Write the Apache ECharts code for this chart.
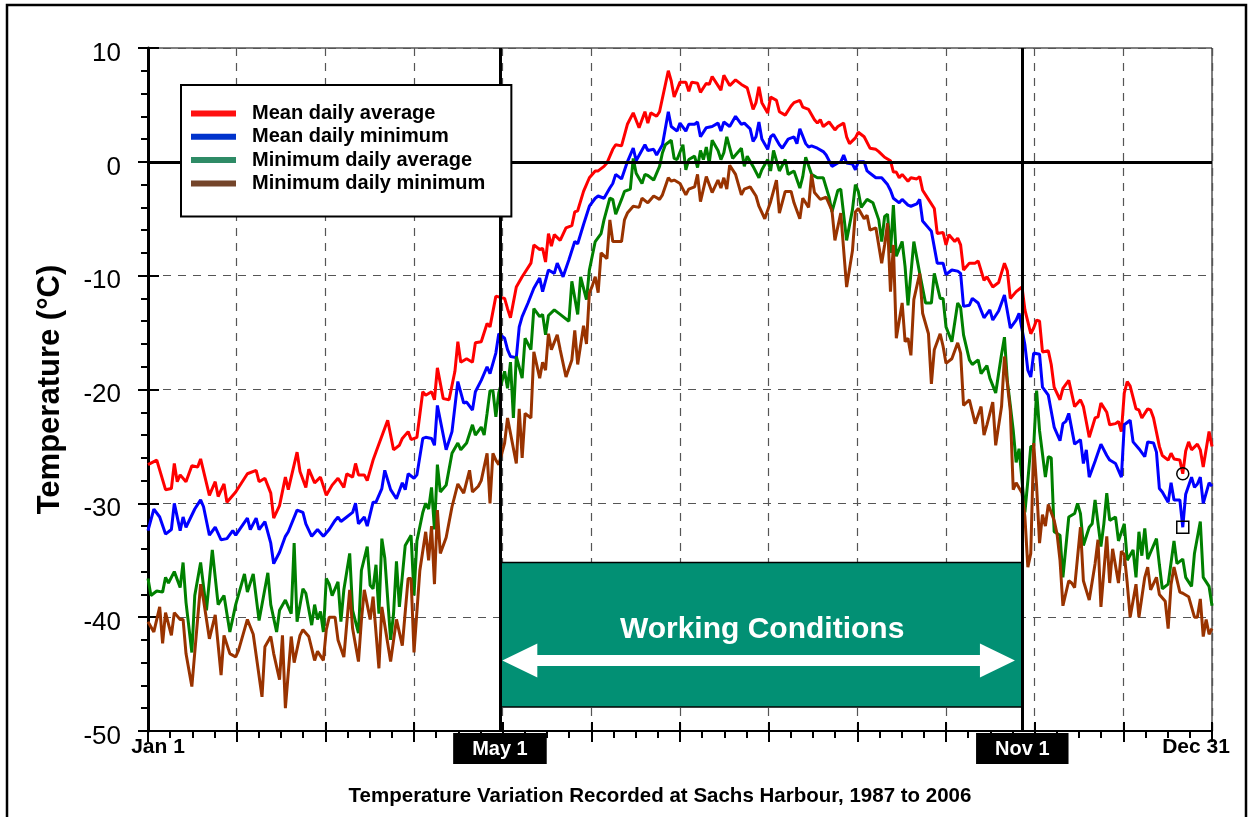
<!DOCTYPE html>
<html>
<head>
<meta charset="utf-8">
<title>Sachs Harbour temperatures</title>
<script src="https://cdn.jsdelivr.net/npm/echarts@6/dist/echarts.min.js"></script>
<style>
  html, body { margin: 0; padding: 0; background: #fff; }
  #chart { width: 1251px; height: 817px; }
</style>
</head>
<body>
<div id="chart"></div>
<script>
// day of year (0 = Jan 1, 364 = Dec 31), temperature in degC
var meanAvg = [[0,-26.6],[3,-26.2],[6,-28.8],[8,-28.7],[9,-26.5],[10,-28.1],[11,-27.5],[13,-28.1],[15,-26.7],[17,-26.8],[18,-26.1],[21,-29.3],[23,-28.1],[24,-29.4],[26,-28.3],[27,-29.9],[30,-29.0],[34,-27.4],[37,-27.1],[38,-28.1],[40,-27.8],[42,-29.1],[43,-31.3],[45,-30.2],[47,-27.7],[48,-28.8],[51,-25.5],[52,-27.2],[54,-28.6],[55,-27.0],[57,-28.2],[59,-27.7],[61,-29.3],[63,-28.4],[65,-27.8],[67,-28.6],[68,-27.4],[70,-27.7],[71,-26.5],[72,-27.5],[74,-27.5],[75,-28.0],[77,-26.2],[78,-25.5],[82,-22.7],[84,-25.3],[86,-24.9],[87,-24.3],[89,-23.7],[90,-24.4],[92,-24.2],[94,-20.2],[95,-20.5],[97,-20.2],[98,-20.9],[99,-18.1],[101,-20.8],[103,-20.9],[105,-18.4],[106,-15.8],[107,-17.6],[109,-17.3],[111,-17.6],[112,-15.9],[114,-15.8],[116,-14.2],[117,-14.5],[119,-11.8],[122,-12.0],[123,-12.9],[124,-13.7],[126,-11.0],[128,-10.1],[131,-8.9],[132,-7.3],[134,-7.7],[135,-7.6],[136,-8.8],[137,-6.3],[138,-7.4],[139,-6.4],[141,-6.9],[143,-5.8],[145,-5.6],[146,-4.4],[147,-4.3],[149,-2.6],[151,-1.4],[153,-0.8],[154,-0.8],[156,-0.4],[157,-0.1],[159,1.1],[160,1.5],[162,1.4],[164,3.3],[166,4.3],[168,3.0],[170,4.4],[171,3.4],[172,4.3],[174,4.0],[175,4.4],[178,8.0],[179,7.1],[180,5.7],[182,7.0],[184,7.0],[185,6.2],[186,7.0],[188,6.9],[189,6.1],[191,6.9],[192,6.8],[193,7.5],[195,6.7],[196,6.3],[197,7.6],[199,6.7],[201,7.2],[203,6.8],[205,6.5],[207,4.6],[208,5.2],[209,6.6],[210,5.2],[212,4.3],[213,5.7],[215,5.4],[216,4.4],[218,4.1],[220,4.9],[221,5.2],[223,5.4],[224,4.8],[226,4.6],[228,3.7],[229,3.4],[230,3.7],[231,3.1],[233,3.5],[235,2.8],[236,3.1],[238,3.4],[239,2.2],[240,1.6],[242,2.1],[243,2.6],[245,2.2],[247,1.2],[249,1.1],[250,0.9],[252,0.4],[254,0.1],[255,-0.9],[256,-0.9],[257,-1.4],[258,-1.1],[260,-1.7],[261,-1.4],[263,-1.5],[264,-1.3],[265,-2.5],[267,-3.3],[269,-4.1],[270,-6.3],[272,-6.2],[273,-7.3],[274,-6.4],[276,-7.0],[277,-6.7],[278,-7.3],[279,-9.5],[281,-8.9],[283,-8.9],[284,-8.7],[286,-10.4],[287,-10.1],[289,-11.0],[291,-10.6],[293,-8.9],[294,-9.6],[295,-12.0],[297,-11.4],[299,-11.0],[300,-13.0],[302,-15.1],[303,-14.6],[304,-13.9],[305,-14.0],[306,-16.7],[308,-16.6],[309,-17.8],[310,-19.8],[312,-20.9],[313,-19.9],[315,-19.2],[317,-21.5],[319,-20.9],[320,-21.5],[322,-24.2],[324,-22.5],[325,-22.4],[326,-21.2],[328,-22.0],[329,-23.1],[331,-23.0],[332,-22.8],[333,-23.7],[334,-20.3],[335,-19.3],[336,-19.7],[338,-21.7],[339,-21.8],[340,-22.5],[342,-21.7],[343,-21.8],[344,-22.5],[346,-25.0],[347,-25.8],[349,-26.2],[350,-25.6],[351,-26.1],[353,-26.2],[354,-27.4],[355,-25.4],[356,-24.6],[357,-25.3],[359,-24.8],[360,-25.3],[361,-26.8],[363,-23.7],[364,-25.0]];

var meanMin = [[0,-32.4],[2,-30.5],[4,-31.2],[6,-32.7],[8,-32.3],[9,-30.0],[11,-32.4],[12,-31.2],[13,-32.1],[16,-30.5],[18,-29.7],[19,-30.3],[21,-32.8],[23,-32.1],[25,-33.2],[27,-33.1],[29,-32.4],[30,-32.8],[34,-31.3],[35,-32.3],[37,-31.3],[38,-32.3],[40,-31.6],[42,-33.5],[43,-35.3],[45,-34.3],[47,-32.9],[48,-32.5],[51,-30.6],[53,-30.8],[54,-31.8],[56,-32.9],[58,-32.3],[60,-32.9],[62,-32.3],[64,-31.5],[65,-31.2],[66,-31.6],[68,-31.2],[70,-30.8],[71,-30.0],[72,-31.8],[74,-31.2],[75,-32.0],[77,-29.9],[78,-29.9],[80,-28.7],[81,-27.1],[83,-28.8],[85,-29.6],[87,-28.2],[88,-28.8],[89,-27.4],[91,-27.8],[92,-27.5],[94,-24.3],[95,-24.2],[97,-24.3],[98,-24.9],[99,-21.4],[102,-25.3],[104,-23.7],[106,-19.3],[108,-21.2],[109,-21.1],[111,-21.8],[112,-20.2],[114,-19.2],[116,-18.0],[117,-18.6],[119,-16.8],[120,-15.1],[122,-15.5],[123,-16.5],[124,-17.1],[126,-17.2],[127,-14.5],[128,-13.6],[130,-12.4],[132,-11.1],[134,-10.2],[135,-11.4],[137,-9.5],[139,-9.8],[140,-8.9],[142,-10.1],[144,-8.6],[146,-7.0],[147,-7.2],[149,-5.5],[151,-3.9],[153,-3.2],[154,-3.0],[156,-3.2],[158,-2.3],[159,-1.9],[160,-1.1],[162,-1.5],[164,0.0],[166,1.2],[167,0.1],[170,1.5],[171,1.0],[173,1.1],[174,0.6],[176,1.5],[178,4.4],[179,3.1],[181,2.7],[182,3.4],[184,2.7],[185,3.3],[187,3.3],[188,3.5],[189,2.2],[191,3.0],[193,3.1],[195,3.4],[196,2.7],[197,3.5],[199,3.1],[201,4.0],[203,3.3],[204,3.4],[206,2.9],[207,1.8],[208,2.2],[209,3.5],[210,2.0],[212,1.1],[213,2.2],[214,2.4],[216,1.5],[217,1.2],[219,2.0],[221,2.2],[222,1.6],[223,2.9],[225,1.6],[226,1.3],[227,1.4],[229,1.2],[231,0.9],[232,0.6],[234,-0.4],[236,-0.1],[237,0.0],[238,0.6],[239,-0.1],[241,-0.2],[242,-0.7],[243,0.0],[245,0.0],[246,-0.8],[247,-1.0],[249,-1.4],[251,-1.4],[253,-2.0],[254,-2.5],[255,-3.2],[257,-3.6],[258,-3.3],[260,-3.8],[261,-3.9],[263,-3.7],[264,-3.3],[265,-5.2],[267,-5.8],[268,-6.1],[270,-8.9],[272,-8.9],[273,-9.9],[275,-9.5],[277,-9.6],[278,-9.8],[279,-12.7],[281,-12.6],[282,-12.0],[284,-12.4],[286,-13.7],[288,-13.0],[289,-13.9],[291,-13.1],[293,-11.7],[295,-14.6],[297,-13.9],[298,-13.3],[300,-16.1],[301,-18.3],[302,-18.9],[303,-16.8],[305,-16.9],[306,-19.8],[308,-20.5],[310,-23.3],[312,-24.5],[313,-23.0],[314,-22.8],[315,-22.1],[317,-24.8],[319,-24.4],[320,-26.5],[321,-25.3],[322,-27.7],[324,-26.3],[326,-24.8],[328,-25.8],[329,-26.2],[331,-26.5],[332,-27.1],[333,-27.7],[334,-23.1],[336,-22.7],[337,-24.6],[339,-25.2],[341,-25.9],[342,-24.6],[344,-24.7],[345,-25.5],[346,-28.7],[347,-29.0],[349,-29.9],[350,-28.2],[351,-29.7],[353,-29.7],[354,-32.1],[355,-29.2],[357,-27.7],[358,-28.6],[359,-28.3],[360,-27.7],[361,-30.0],[363,-28.2],[364,-28.5]];

var minAvg = [[0,-36.6],[1,-38.1],[3,-37.7],[5,-37.8],[6,-36.5],[7,-37.0],[9,-36.0],[11,-37.4],[12,-35.2],[13,-38.7],[15,-43.1],[16,-38.1],[18,-35.2],[20,-39.4],[22,-34.1],[24,-38.9],[26,-38.1],[28,-41.3],[30,-38.9],[33,-36.2],[34,-37.8],[36,-36.2],[38,-40.3],[41,-36.1],[42,-38.9],[44,-41.3],[45,-39.4],[47,-38.5],[49,-39.7],[50,-33.5],[51,-40.4],[53,-37.5],[54,-37.9],[56,-40.7],[57,-38.9],[58,-40.2],[59,-39.5],[60,-41.3],[61,-36.6],[62,-37.1],[63,-38.1],[65,-36.9],[66,-40.4],[67,-37.6],[69,-34.4],[70,-39.4],[72,-41.4],[73,-35.9],[75,-33.8],[76,-37.2],[77,-37.5],[78,-35.4],[79,-39.7],[80,-33.1],[81,-34.8],[83,-42.0],[84,-39.7],[85,-35.1],[86,-39.1],[88,-33.7],[90,-32.8],[91,-38.1],[92,-33.3],[94,-30.8],[95,-30.0],[96,-30.5],[97,-28.6],[98,-32.3],[99,-26.6],[100,-29.0],[102,-28.4],[104,-25.6],[106,-24.7],[107,-25.3],[109,-24.7],[111,-23.1],[112,-24.0],[114,-23.3],[115,-24.0],[116,-22.1],[117,-20.1],[118,-20.1],[119,-22.4],[120,-20.3],[122,-18.4],[123,-19.9],[124,-17.6],[125,-22.5],[126,-17.1],[128,-19.0],[129,-15.5],[131,-16.5],[132,-12.9],[134,-13.6],[135,-13.4],[136,-15.2],[137,-13.5],[139,-13.0],[141,-13.4],[144,-14.0],[145,-10.5],[147,-13.4],[148,-10.1],[150,-12.1],[151,-9.5],[153,-7.0],[155,-6.3],[156,-5.1],[158,-3.2],[159,-3.3],[160,-4.6],[162,-3.3],[163,-2.6],[165,-2.4],[166,0.3],[167,-1.0],[169,-1.9],[170,-1.1],[171,-1.2],[173,-1.6],[175,-0.4],[176,0.8],[177,1.5],[179,1.9],[180,0.3],[181,0.2],[183,1.5],[184,-0.7],[185,0.2],[187,0.5],[188,-0.5],[189,1.0],[190,0.2],[191,1.3],[192,-0.1],[193,1.9],[195,1.0],[196,0.2],[197,0.8],[198,2.2],[200,0.3],[201,0.6],[203,1.2],[204,-0.4],[205,0.5],[207,-0.4],[209,-1.4],[210,-0.7],[212,0.2],[213,-0.8],[214,1.0],[216,-0.8],[218,0.2],[219,-1.1],[221,-0.8],[223,-2.3],[224,-1.3],[225,0.4],[227,-1.1],[229,-1.4],[231,-1.4],[233,-3.1],[234,-4.4],[236,-2.5],[237,-2.4],[239,-6.9],[241,-4.2],[242,-2.0],[243,-2.6],[244,-4.0],[246,-3.3],[248,-3.6],[250,-5.1],[251,-7.0],[252,-4.8],[253,-4.6],[254,-8.0],[255,-3.8],[256,-8.3],[258,-7.0],[259,-9.2],[260,-12.6],[262,-7.0],[264,-9.8],[266,-12.4],[268,-12.4],[269,-9.8],[271,-12.0],[272,-12.0],[273,-14.5],[275,-15.8],[277,-12.4],[278,-12.8],[279,-15.2],[281,-17.4],[282,-17.8],[284,-17.4],[285,-18.6],[287,-17.9],[288,-19.0],[290,-20.3],[292,-16.9],[293,-15.4],[294,-19.3],[295,-21.4],[296,-23.6],[297,-26.4],[298,-25.2],[300,-30.8],[301,-28.0],[302,-25.0],[303,-25.0],[304,-20.1],[305,-23.6],[307,-27.7],[308,-25.9],[309,-26.0],[310,-32.5],[312,-32.8],[313,-36.5],[315,-31.2],[317,-30.9],[318,-30.0],[319,-30.9],[320,-33.7],[322,-32.1],[323,-31.8],[324,-29.7],[326,-33.8],[327,-31.8],[328,-29.1],[329,-31.5],[331,-31.2],[332,-33.3],[334,-31.8],[335,-35.0],[337,-34.1],[338,-36.5],[339,-32.5],[340,-34.6],[341,-32.2],[342,-34.9],[343,-34.3],[345,-33.1],[346,-35.4],[347,-37.5],[349,-37.1],[351,-33.3],[352,-35.3],[354,-34.9],[355,-36.5],[357,-37.3],[358,-34.4],[360,-31.6],[361,-36.5],[363,-37.3],[364,-39.0]];

var minMin = [[0,-40.4],[2,-41.3],[4,-39.1],[5,-42.3],[6,-39.6],[8,-41.6],[9,-39.6],[11,-40.2],[12,-40.2],[13,-43.2],[15,-46.1],[18,-37.1],[19,-38.5],[21,-41.9],[23,-39.8],[25,-45.1],[26,-41.6],[28,-43.2],[30,-43.5],[31,-42.9],[34,-40.2],[36,-41.5],[39,-47.0],[40,-42.6],[42,-41.7],[43,-43.2],[45,-45.5],[46,-41.6],[47,-48.0],[49,-41.7],[50,-44.0],[52,-41.6],[53,-41.1],[55,-41.7],[57,-43.8],[58,-43.0],[60,-43.8],[61,-41.1],[62,-40.0],[64,-40.0],[65,-42.0],[67,-43.5],[69,-37.6],[70,-41.0],[72,-43.9],[73,-40.3],[74,-37.6],[76,-40.2],[77,-38.2],[79,-44.5],[80,-39.1],[83,-43.9],[85,-40.2],[87,-42.5],[89,-36.6],[90,-36.6],[91,-43.1],[93,-35.9],[95,-32.5],[96,-35.0],[97,-32.0],[98,-37.1],[99,-30.6],[100,-34.4],[102,-33.0],[104,-30.3],[106,-28.3],[108,-29.1],[110,-27.1],[111,-29.0],[113,-28.5],[114,-28.0],[116,-25.6],[117,-30.0],[118,-25.6],[119,-26.2],[120,-26.6],[122,-24.7],[123,-22.5],[126,-26.5],[127,-21.7],[128,-26.0],[129,-22.1],[131,-22.5],[132,-16.7],[134,-19.0],[135,-17.6],[136,-18.3],[137,-15.1],[138,-16.5],[140,-15.2],[141,-16.5],[143,-18.9],[145,-17.4],[146,-14.8],[147,-17.8],[149,-14.4],[150,-16.0],[151,-11.5],[152,-10.9],[153,-10.1],[154,-11.5],[155,-8.0],[157,-8.5],[158,-5.1],[159,-7.0],[162,-7.0],[163,-5.1],[164,-4.5],[166,-3.9],[168,-4.0],[169,-3.2],[171,-3.6],[173,-3.0],[175,-3.3],[176,-2.9],[178,-1.4],[179,-1.7],[180,-1.6],[182,-1.9],[184,-2.9],[185,-2.4],[187,-2.2],[188,-1.1],[189,-3.5],[191,-1.3],[193,-2.7],[195,-1.6],[196,-2.3],[197,-1.4],[198,-2.4],[199,-0.3],[201,-1.1],[203,-2.9],[204,-2.4],[206,-2.2],[208,-3.0],[209,-3.9],[211,-5.0],[213,-3.5],[215,-1.6],[216,-4.5],[218,-2.6],[220,-2.6],[221,-3.6],[223,-5.0],[224,-3.2],[226,-4.0],[227,-1.1],[228,-2.7],[230,-3.3],[232,-3.1],[234,-4.3],[235,-6.9],[237,-4.5],[239,-11.0],[241,-7.8],[242,-4.4],[243,-4.1],[245,-5.0],[246,-4.7],[247,-6.0],[249,-5.8],[251,-8.9],[252,-7.3],[253,-5.4],[254,-11.4],[255,-7.3],[256,-15.5],[258,-12.4],[259,-15.8],[260,-15.5],[261,-17.0],[262,-12.1],[264,-9.8],[265,-13.3],[267,-15.1],[268,-19.5],[269,-16.5],[271,-15.1],[272,-16.2],[273,-17.7],[275,-17.3],[277,-15.9],[278,-16.8],[279,-21.4],[281,-20.9],[283,-23.0],[285,-21.5],[286,-24.0],[287,-23.1],[289,-21.1],[290,-24.9],[292,-21.5],[293,-17.1],[295,-21.9],[296,-28.8],[297,-28.2],[299,-29.1],[300,-31.2],[301,-35.6],[302,-34.4],[303,-24.7],[304,-28.5],[305,-33.5],[306,-31.0],[307,-32.0],[308,-30.1],[310,-31.5],[311,-32.7],[312,-35.0],[313,-39.0],[315,-36.8],[316,-37.0],[317,-37.4],[319,-32.1],[320,-36.8],[322,-38.5],[324,-35.3],[325,-33.2],[326,-39.1],[328,-32.9],[329,-37.0],[330,-34.0],[332,-37.0],[333,-34.2],[334,-34.5],[335,-37.0],[336,-40.0],[338,-37.1],[339,-40.0],[341,-36.5],[342,-35.6],[343,-37.6],[345,-36.5],[346,-38.0],[348,-38.6],[349,-41.0],[350,-37.1],[351,-35.6],[353,-37.8],[354,-37.9],[356,-38.2],[358,-40.0],[359,-40.0],[360,-38.4],[361,-41.7],[362,-40.2],[363,-41.5],[364,-41.0]];

var seriesNames = ['Mean daily average', 'Mean daily minimum', 'Minimum daily average', 'Minimum daily minimum'];
var lineColors = ['#ff0000', '#0000ff', '#008000', '#993300'];
var legendColors = ['#ff1010', '#0033cc', '#2e8b66', '#74452a'];

// season markers (day of year) and the working window
var mayDay = 120.4;
var novDay = 299.1;
var workTop = -35.2, workBottom = -47.9;
var arrowLevel = -43.8, arrowFrom = 127.2, arrowTo = 290.6;
var flagDay = 354; // circled / boxed readings

var FONT = '"Liberation Sans", Arial, Helvetica, sans-serif';

function pointAt(arr, d) {
    for (var i = 0; i < arr.length; i++) {
        if (arr[i][0] === d) return arr[i];
    }
    return null;
}

var chart = echarts.init(document.getElementById('chart'));

var allData = [meanAvg, meanMin, minAvg, minMin];
var series = [];
for (var i = 0; i < allData.length; i++) {
    series.push({
        name: seriesNames[i],
        type: 'line',
        data: allData[i],
        showSymbol: false,
        symbol: 'none',
        color: lineColors[i],
        lineStyle: { color: lineColors[i], width: 3 },
        z: 3
    });
}

// hollow marks on the red and blue curves near Dec 20
series[0].markPoint = {
    silent: true,
    label: { show: false },
    data: [{ coord: pointAt(meanAvg, flagDay), symbol: 'circle', symbolSize: 12,
             itemStyle: { color: 'rgba(0,0,0,0)', borderColor: '#000', borderWidth: 1.5 } }]
};
series[1].markPoint = {
    silent: true,
    label: { show: false },
    data: [{ coord: pointAt(meanMin, flagDay), symbol: 'rect', symbolSize: 12,
             itemStyle: { color: 'rgba(0,0,0,0)', borderColor: '#000', borderWidth: 1.5 } }]
};

// working conditions box, zero line, May 1 / Nov 1 lines
series.push({
    name: 'annotations',
    type: 'line',
    data: [],
    z: 4,
    markArea: {
        silent: true,
        itemStyle: { color: '#029074', borderColor: '#000', borderWidth: 1.5 },
        label: {
            show: true, position: 'inside', offset: [1, -5],
            color: '#fff', fontSize: 30, fontWeight: 'bold', fontFamily: FONT
        },
        data: [[{ name: 'Working Conditions', coord: [mayDay, workTop] }, { coord: [novDay, workBottom] }]]
    },
    markLine: {
        silent: true,
        symbol: 'none',
        animation: false,
        lineStyle: { color: '#000', width: 3, type: 'solid' },
        label: {
            show: true, position: 'start', distance: 2,
            backgroundColor: '#000', color: '#fff', fontSize: 20, fontWeight: 'bold',
            fontFamily: FONT, padding: [6, 19, 5, 19], lineHeight: 20
        },
        data: [
            { yAxis: 0, label: { show: false } },
            { xAxis: mayDay, label: { formatter: 'May 1' } },
            { xAxis: novDay, label: { formatter: 'Nov 1' } }
        ]
    }
});

// white double arrow inside the box
series.push({
    name: 'arrow',
    type: 'line',
    data: [],
    z: 5,
    markLine: {
        silent: true,
        animation: false,
        symbol: ['triangle', 'triangle'],
        symbolSize: [34, 35],
        lineStyle: { color: '#fff', width: 11, type: 'solid' },
        itemStyle: { color: '#fff' },
        label: { show: false },
        data: [[{ coord: [arrowFrom, arrowLevel] }, { coord: [arrowTo, arrowLevel] }]]
    }
});

var legendData = [];
for (var j = 0; j < seriesNames.length; j++) {
    legendData.push({ name: seriesNames[j], itemStyle: { color: legendColors[j] } });
}

var xBase = { type: 'value', min: 0, max: 364, interval: 364 / 12 };
var yBase = { type: 'value', min: -50, max: 10, interval: 10 };

var option = {
    animation: false,
    backgroundColor: '#fff',
    textStyle: { fontFamily: FONT },
    title: {
        text: 'Temperature Variation Recorded at Sachs Harbour, 1987 to 2006',
        left: 660,
        top: 786,
        textAlign: 'center',
        padding: 0,
        textStyle: { fontSize: 20.5, fontWeight: 'bold', color: '#000', fontFamily: FONT }
    },
    legend: {
        data: legendData,
        orient: 'vertical',
        left: 181,
        top: 85,
        icon: 'rect',
        itemWidth: 45,
        itemHeight: 6,
        itemGap: 3.3,
        padding: [18.5, 26, 23, 10],
        backgroundColor: '#fff',
        borderColor: '#000',
        borderWidth: 2,
        selectedMode: false,
        z: 10,
        textStyle: {
            fontSize: 20, fontWeight: 'bold', color: '#000', fontFamily: FONT,
            lineHeight: 20, padding: [0, 0, 0, 11]
        }
    },
    grid: {
        left: 148, right: 39, top: 48, bottom: 86,
        show: true, borderColor: '#000', borderWidth: 1, backgroundColor: 'rgba(0,0,0,0)'
    },
    xAxis: [
        Object.assign({}, xBase, {
            axisLine: { show: true, onZero: false, lineStyle: { color: '#000', width: 2 } },
            axisTick: { show: true, length: 11, lineStyle: { color: '#000', width: 2 } },
            minorTick: { show: true, splitNumber: 4, length: 7, lineStyle: { color: '#000', width: 2 } },
            splitLine: { show: true, lineStyle: { color: '#555', width: 1.2, type: [8, 7] } },
            axisLabel: {
                margin: 6,
                showMinLabel: true,
                showMaxLabel: true,
                formatter: function (v) {
                    if (v < 1) return '{a|Jan 1}';
                    if (v > 363) return '{b|Dec 31}';
                    return '';
                },
                rich: {
                    a: { fontSize: 21, fontWeight: 'bold', color: '#000', fontFamily: FONT, padding: [0, 0, 0, 20] },
                    b: { fontSize: 21, fontWeight: 'bold', color: '#000', fontFamily: FONT, padding: [0, 32, 0, 0] }
                }
            }
        }),
        // inner half of the major ticks
        Object.assign({}, xBase, {
            position: 'bottom',
            axisLine: { show: false, onZero: false },
            axisTick: { show: true, inside: true, length: 9, lineStyle: { color: '#000', width: 2 } },
            axisLabel: { show: false },
            splitLine: { show: false }
        })
    ],
    yAxis: [
        Object.assign({}, yBase, {
            name: 'Temperature (°C)',
            nameLocation: 'middle',
            nameRotate: 90,
            nameGap: 82,
            nameTextStyle: { fontSize: 31, fontWeight: 'bold', color: '#000', fontFamily: FONT },
            axisLine: { show: true, onZero: false, lineStyle: { color: '#000', width: 3 } },
            axisTick: { show: true, length: 10, lineStyle: { color: '#000', width: 2 } },
            minorTick: { show: true, splitNumber: 5, length: 7, lineStyle: { color: '#000', width: 2 } },
            splitLine: { show: true, lineStyle: { color: '#555', width: 1.2, type: [8, 7] } },
            axisLabel: {
                margin: 27,
                formatter: function (v) { return '{v|' + v + '}'; },
                rich: { v: { fontSize: 26, color: '#000', fontFamily: FONT, padding: [11, 0, 0, 0] } }
            }
        }),
        Object.assign({}, yBase, {
            position: 'left',
            axisLine: { show: false, onZero: false },
            axisTick: { show: true, inside: true, length: 11, lineStyle: { color: '#000', width: 2 } },
            axisLabel: { show: false },
            splitLine: { show: false }
        })
    ],
    graphic: [{
        type: 'rect',
        silent: true,
        shape: { x: 7, y: 5, width: 1239, height: 840 },
        style: { fill: 'none', stroke: '#000', lineWidth: 2.5 }
    }],
    series: series
};

chart.setOption(option);
</script>
</body>
</html>
